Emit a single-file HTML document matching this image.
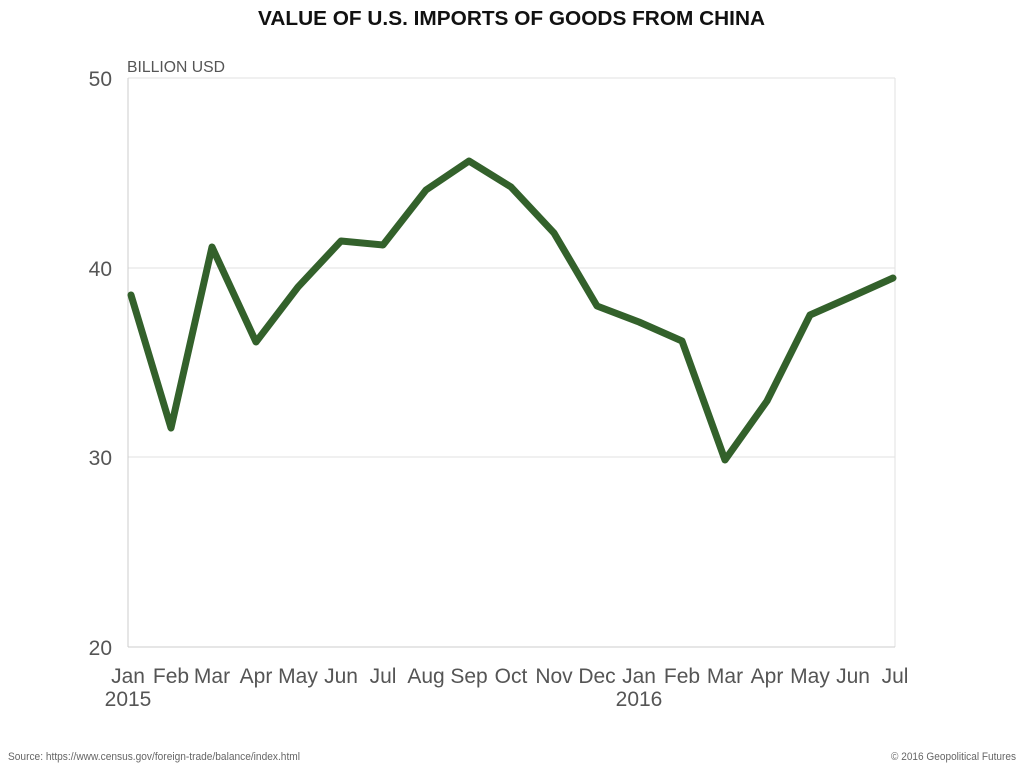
<!DOCTYPE html>
<html><head><meta charset="utf-8"><style>
body{margin:0;background:#fff;width:1024px;height:768px;overflow:hidden}
svg text{font-family:"Liberation Sans Narrow","Liberation Sans",sans-serif}
</style></head><body>
<svg width="1024" height="768" xmlns="http://www.w3.org/2000/svg">
<text x="258" y="25" textLength="507" lengthAdjust="spacingAndGlyphs" font-size="20" font-weight="bold" fill="#111">VALUE OF U.S. IMPORTS OF GOODS FROM CHINA</text>
<text x="127" y="72" font-size="16" fill="#555" textLength="98" lengthAdjust="spacingAndGlyphs">BILLION USD</text>
<g stroke="#e2e2e2" stroke-width="1">
<line x1="128" y1="78" x2="895" y2="78"/>
<line x1="128" y1="268" x2="895" y2="268"/>
<line x1="128" y1="457" x2="895" y2="457"/>
<line x1="895" y1="78" x2="895" y2="647"/>
</g>
<line x1="128" y1="78" x2="128" y2="647" stroke="#ccc"/>
<line x1="128" y1="647" x2="895" y2="647" stroke="#ccc"/>
<g font-size="21" fill="#555" text-anchor="end">
<text x="112" y="86">50</text><text x="112" y="276">40</text><text x="112" y="465">30</text><text x="112" y="655">20</text>
</g>
<g font-size="21" fill="#555" text-anchor="middle">
<text x="128" y="683">Jan</text><text x="171" y="683">Feb</text><text x="212" y="683">Mar</text><text x="256" y="683">Apr</text><text x="298" y="683">May</text><text x="341" y="683">Jun</text><text x="383" y="683">Jul</text><text x="426" y="683">Aug</text><text x="469" y="683">Sep</text><text x="511" y="683">Oct</text><text x="554" y="683">Nov</text><text x="597" y="683">Dec</text><text x="639" y="683">Jan</text><text x="682" y="683">Feb</text><text x="725" y="683">Mar</text><text x="767" y="683">Apr</text><text x="810" y="683">May</text><text x="853" y="683">Jun</text><text x="895" y="683">Jul</text>
<text x="128" y="706">2015</text><text x="639" y="706">2016</text>
</g>
<polyline fill="none" stroke="#33612b" stroke-width="7" stroke-linejoin="round" stroke-linecap="round" points="131,295 171,428 212,247 256,342 298,287 341,241 383,245 426,190 469,161 511,187 554,233 597,306 639,322 682,341 725,460 767,401 810,315 853,296 893,278"/>
<text x="8" y="760" font-size="11" fill="#666" textLength="292" lengthAdjust="spacingAndGlyphs">Source: https://www.census.gov/foreign-trade/balance/index.html</text>
<text x="891" y="760" font-size="11" fill="#666" textLength="125" lengthAdjust="spacingAndGlyphs">© 2016 Geopolitical Futures</text>
</svg>
</body></html>
